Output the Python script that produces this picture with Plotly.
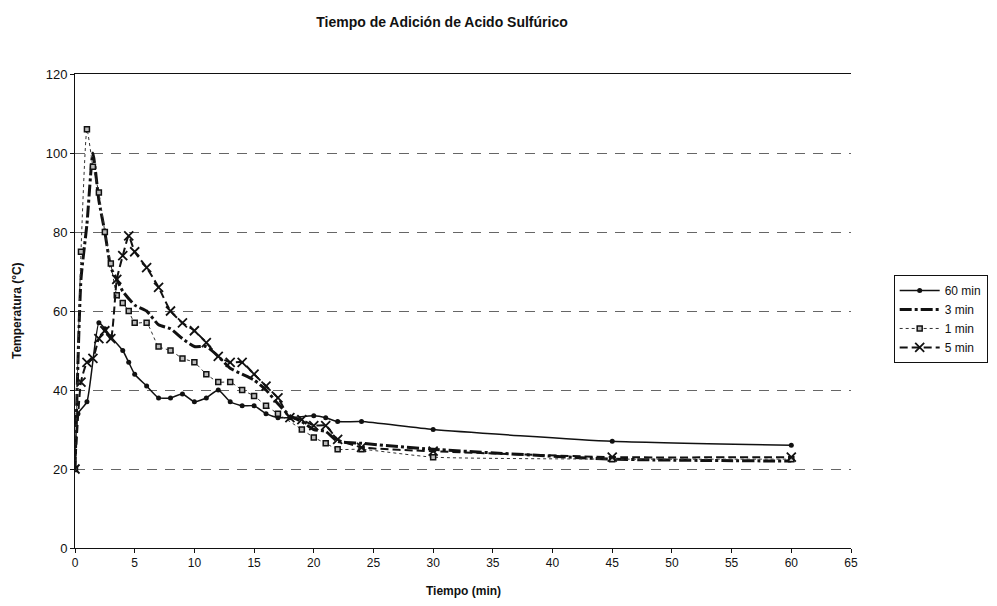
import plotly.graph_objects as go

# ---- data ----
t60 = [0, 0.25, 1, 2, 2.5, 3, 4, 4.5, 5, 6, 7, 8, 9, 10, 11, 12, 13, 14, 15, 16, 17, 18, 20, 21, 22, 24, 30, 45, 60]
T60 = [20, 34, 37, 57, 55.5, 53.5, 50, 47, 44, 41, 38, 38, 39, 37, 38, 40, 37, 36, 36, 34, 33, 33, 33.5, 33, 32, 32, 30, 27, 26]

t3 = [0, 0.5, 1, 1.5, 2, 2.5, 3, 3.5, 4, 5, 6, 7, 8, 9, 10, 11, 12, 13, 14, 15, 16, 17, 18, 19, 20, 21, 22, 24, 30, 45, 60]
T3 = [20, 68, 82, 100, 88, 80, 71, 68, 65, 61.5, 60, 56.5, 55.5, 53, 51, 51, 48.5, 45.5, 44, 42.5, 40, 36.5, 33.5, 32, 30, 29.5, 27, 26.5, 25, 22.5, 22]

t1 = [0, 0.5, 1, 1.5, 2, 2.5, 3, 3.5, 4, 4.5, 5, 6, 7, 8, 9, 10, 11, 12, 13, 14, 15, 16, 17, 19, 20, 21, 22, 24, 30, 45, 60]
T1 = [20, 75, 106, 96.5, 90, 80, 72, 64, 62, 60, 57, 57, 51, 50, 48, 47, 44, 42, 42, 40, 38.5, 36, 34, 30, 28, 26.5, 25, 25, 23, 22.5, 22.5]

t5 = [0, 0.5, 1, 1.5, 2, 2.5, 3, 3.5, 4, 4.5, 5, 6, 7, 8, 9, 10, 11, 12, 13, 14, 15, 16, 17, 18, 19, 20, 21, 22, 24, 30, 45, 60]
T5 = [20, 42, 47, 48, 53, 55, 53, 68, 74, 79, 75, 71, 66, 60, 57, 55, 52, 48.5, 47, 47, 44, 41, 38, 33, 32.5, 31, 31, 27.5, 25.5, 24.5, 23, 23]

x_ticks = list(range(0, 70, 5))
y_ticks = list(range(0, 140, 20))

FONT = "Liberation Sans, Arial, sans-serif"
W, H = 997, 606
L, R, T, B = 67, 154, 66, 66

fig = go.Figure()
fig.add_trace(go.Scatter(x=t60, y=T60, name="60 min", mode="lines+markers",
                         line=dict(color="#111", width=1.5, shape="spline", smoothing=0.5),
                         marker=dict(symbol="circle", size=5, color="#111")))
fig.add_trace(go.Scatter(x=t3, y=T3, name="3 min", mode="lines",
                         line=dict(color="#111", width=3, dash="12px,3px,3px,3px", shape="spline", smoothing=0.5)))
fig.add_trace(go.Scatter(x=t1, y=T1, name="1 min", mode="lines+markers",
                         line=dict(color="#333", width=1, dash="dot", shape="spline", smoothing=0.5),
                         marker=dict(symbol="square", size=5, color="#bbb", line=dict(color="#111", width=1.5))))
fig.add_trace(go.Scatter(x=t5, y=T5, name="5 min", mode="lines+markers",
                         line=dict(color="#111", width=2, dash="8px,4px", shape="spline", smoothing=0.5),
                         marker=dict(symbol="x-thin", size=9, line=dict(color="#111", width=1.8))))

fig.update_layout(
    width=W, height=H,
    margin=dict(l=L, r=R, t=T, b=B, autoexpand=False),
    paper_bgcolor="white", plot_bgcolor="white",
    font=dict(family=FONT, size=12, color="#111"),
    title=dict(text="<b>Tiempo de Adición de Acido Sulfúrico</b>", x=434 / W, xanchor="center",
               y=1 - 14 / H, yanchor="middle", font=dict(size=14, family=FONT)),
    showlegend=True,
    legend=dict(x=1.055, y=0.576, xanchor="left", yanchor="top",
                bordercolor="#111", borderwidth=1, bgcolor="white",
                font=dict(size=12, family=FONT), tracegroupgap=0, itemwidth=40),
    xaxis=dict(range=[0, 65], tickvals=x_ticks, showgrid=False, zeroline=False,
               showline=True, linecolor="#111", linewidth=1, mirror=True,
               ticks="outside", ticklen=4, tickcolor="#111", automargin=False,
               tickfont=dict(size=12)),
    yaxis=dict(range=[0, 120], tickvals=y_ticks, showgrid=True, gridcolor="#666", griddash="10px,8px",
               gridwidth=1, zeroline=False, showline=True, linecolor="#111", linewidth=1,
               ticks="outside", ticklen=4, tickcolor="#111", automargin=False,
               tickfont=dict(size=13)),
    annotations=[
        dict(text="<b>Tiempo (min)</b>", xref="paper", yref="paper",
             x=0.5, y=-(583 - (H - B)) / (H - T - B), xanchor="center", yanchor="middle",
             showarrow=False, font=dict(size=12, family=FONT)),
        dict(text="<b>Temperatura (°C)</b>", xref="paper", yref="paper",
             x=-(L - 9) / (W - L - R), y=0.5, xanchor="center", yanchor="middle",
             textangle=-90, showarrow=False, font=dict(size=12, family=FONT)),
    ],
)

fig.write_html("out.html")
